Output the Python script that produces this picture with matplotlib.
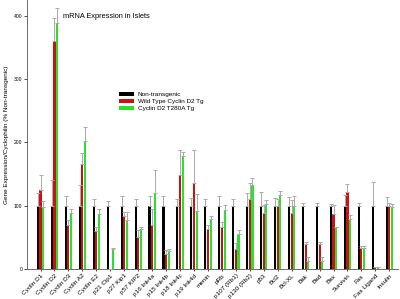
import matplotlib
matplotlib.use('Agg')
import matplotlib.pyplot as plt
import numpy as np

plt.rcParams['font.family'] = ['Liberation Sans', 'DejaVu Sans']

genes = ['Cyclin D1', 'Cyclin D2', 'Cyclin D3', 'Cyclin A2', 'Cyclin E2',
         'p21 Cip1', 'p27 Kip1', 'p57 KIP2', 'p16 Ink4a', 'p15 Ink4b',
         'p18 Ink4c', 'p19 Ink4d', 'menin', 'pRb', 'p107 (Rb1)',
         'p130 (Rb2)', 'p53', 'Bcl2', 'Bcl-XL', 'Bak', 'Bad', 'Bax',
         'Survivin', 'Fas', 'Fas Ligand', 'Insulin']

# Non-transgenic
ntg = [100, 100, 100, 100, 100, 100, 100, 100, 100, 100, 100, 100, 100,
       100, 100, 100, 100, 100, 100, 100, 100, 100, 100, 100, 100, 100]
ntg_top = [120, 141, 115, 133, 111, 107, 115, 111, 115, 116, 111, 112, 111,
           115, 111, 120, 122, 112, 114, 104, 104, 103, 117, 104, 137, 113]
# Wild Type Cyclin D2 Tg
wt = [125, 361, 70, 166, 60, 0, 84, 50, 70, 24, 149, 136, 63,
      66, 31, 110, 88, 100, 89, 40, 40, 87, 122, 33, 3, 99]
wt_top = [149, 396, 77, 184, 67, 0, 90, 62, 95, 30, 188, 188, 69,
          75, 41, 136, 101, 111, 109, 42, 42, 101, 134, 36, 3, 104]
# Cyclin D2 T280A Tg
mut = [98, 388, 89, 202, 87, 32, 77, 63, 120, 29, 178, 92, 79,
       94, 56, 133, 102, 117, 100, 13, 13, 66, 79, 33, 3, 98]
mut_top = [108, 413, 95, 225, 95, 33, 90, 67, 156, 31, 185, 119, 84,
           101, 62, 143, 109, 124, 116, 19, 19, 67, 85, 36, 3, 103]

x = np.arange(len(genes))
w = 0.15
off = 0.19

fig = plt.figure(figsize=(4.0, 2.99), dpi=100)
ax = fig.add_axes([0.0675, 0.1003, 0.9275, 0.8997])

series = [(ntg, ntg_top, '#000000', 'Non-transgenic', -off),
          (wt, wt_top, '#cc1111', 'Wild Type Cyclin D2 Tg', 0),
          (mut, mut_top, '#2ee02e', 'Cyclin D2 T280A Tg', off)]

for vals, tops, col, lab, dx in series:
    vals = np.array(vals, dtype=float)
    tops = np.array(tops, dtype=float)
    ax.bar(x + dx, vals, w, color=col, label=lab, zorder=2)
    up = np.clip(tops - vals, 0, None)
    ax.errorbar(x + dx, vals, yerr=[np.zeros_like(up), up], fmt='none',
                ecolor='#aaaaaa', elinewidth=0.7, capsize=1.6, capthick=0.7,
                zorder=3)

ax.set_xlim(-0.97, len(genes) - 1 + 0.62)
ax.set_ylim(0, 425)
ax.set_yticks([0, 100, 200, 300, 400])
ax.tick_params(axis='y', labelsize=3.6, length=2, width=0.5, pad=1.5)
ax.set_xticks(x)
ax.set_xticklabels(genes, rotation=45, ha='right', rotation_mode='anchor',
                   fontsize=4.6)
ax.tick_params(axis='x', length=1.5, width=0.5, pad=1.5)

for s in ['top', 'right']:
    ax.spines[s].set_visible(False)
for s in ['left', 'bottom']:
    ax.spines[s].set_linewidth(0.6)
    ax.spines[s].set_color('#555555')

ax.set_ylabel('Gene Expression/Cyclophilin (% Non-transgenic)', fontsize=4.6,
              labelpad=3)

ax.text(0.097, 0.94, 'mRNA Expression in Islets', transform=ax.transAxes,
        fontsize=5.3, va='center', ha='left')

leg = fig.legend(loc='upper left', bbox_to_anchor=(119 / 400, 1 - 92 / 299),
                 frameon=False, fontsize=4.6, handlelength=2.35,
                 handleheight=0.6, labelspacing=0.25, handletextpad=0.6,
                 borderpad=0, borderaxespad=0)

fig.savefig('out.png', dpi=100)
